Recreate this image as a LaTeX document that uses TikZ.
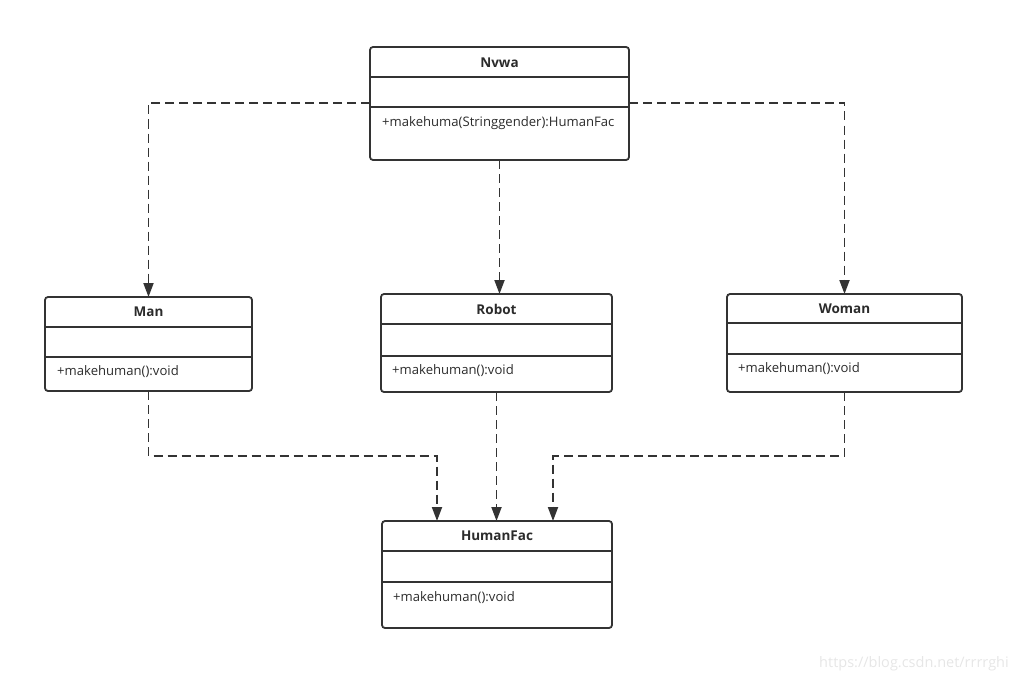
\documentclass[tikz,border=0pt]{standalone}
\usepackage{fontspec}
\setmainfont{Open Sans}
\usetikzlibrary{arrows.meta,calc}
\definecolor{lc}{HTML}{333333}
\definecolor{tc}{HTML}{2B2B2B}
\definecolor{wm}{HTML}{E6E6E6}
\tikzset{
  umlbox/.style={draw=lc, line width=1.8pt, rounded corners=3pt, anchor=north west, inner sep=0pt, outer sep=0pt},
  divline/.style={draw=lc, line width=1.8pt},
  ttl/.style={font=\bfseries\fontsize{13.5}{15}\selectfont, text=tc, inner sep=0pt},
  meth/.style={anchor=west, font=\fontsize{13.1}{15}\selectfont, text=tc, inner sep=0pt},
  dep/.style={draw=lc, line width=1.9pt, dash pattern=on 9pt off 5pt, -{Triangle[length=14pt,width=10pt]}}
}
\begin{document}
\begin{tikzpicture}[x=1pt,y=-1pt]
\useasboundingbox (0,0) rectangle (1016,682);
% Nvwa
\node[umlbox, minimum width=259pt, minimum height=113pt] (nvwa) at (370,47) {};
\coordinate (nvd1a) at (370,77); \coordinate (nvd1b) at (629,77);
\coordinate (nvd2a) at (370,107); \coordinate (nvd2b) at (629,107);
\draw[divline] (nvd1a) -- (nvd1b);
\draw[divline] (nvd2a) -- (nvd2b);
\node[ttl] (nvwat) at (499.5,63) {Nvwa};
\node[meth] (nvwam) at (382,123) {+makehuma(Stringgender):HumanFac};
% Man
\node[umlbox, minimum width=207pt, minimum height=94pt] (man) at (45,297) {};
\coordinate (mnd1a) at (45,327); \coordinate (mnd1b) at (252,327);
\coordinate (mnd2a) at (45,357); \coordinate (mnd2b) at (252,357);
\draw[divline] (mnd1a) -- (mnd1b);
\draw[divline] (mnd2a) -- (mnd2b);
\node[ttl] (mant) at (148.5,312) {Man};
\node[meth] (manm) at (57,372) {+makehuman():void};
% Robot
\node[umlbox, minimum width=231pt, minimum height=98pt] (robot) at (381,294) {};
\coordinate (rbd1a) at (381,324); \coordinate (rbd1b) at (612,324);
\coordinate (rbd2a) at (381,356); \coordinate (rbd2b) at (612,356);
\draw[divline] (rbd1a) -- (rbd1b);
\draw[divline] (rbd2a) -- (rbd2b);
\node[ttl] (robott) at (496.5,309) {Robot};
\node[meth] (robotm) at (392,371) {+makehuman():void};
% Woman
\node[umlbox, minimum width=235pt, minimum height=98pt] (woman) at (727,294) {};
\coordinate (wmd1a) at (727,323); \coordinate (wmd1b) at (962,323);
\coordinate (wmd2a) at (727,354); \coordinate (wmd2b) at (962,354);
\draw[divline] (wmd1a) -- (wmd1b);
\draw[divline] (wmd2a) -- (wmd2b);
\node[ttl] (womant) at (844.5,309) {Woman};
\node[meth] (womanm) at (738,369) {+makehuman():void};
% HumanFac
\node[umlbox, minimum width=230pt, minimum height=107pt] (hf) at (382,521) {};
\coordinate (hfd1a) at (382,551); \coordinate (hfd1b) at (612,551);
\coordinate (hfd2a) at (382,582); \coordinate (hfd2b) at (612,582);
\draw[divline] (hfd1a) -- (hfd1b);
\draw[divline] (hfd2a) -- (hfd2b);
\node[ttl] (hft) at (497,536) {HumanFac};
\node[meth] (hfm) at (393,598) {+makehuman():void};
% connectors
\coordinate (nvL) at (370,103);
\coordinate (nvR) at (629,103);
\coordinate (inL) at (437,521);
\coordinate (inR) at (553,521);
\coordinate (jL) at (437,456);
\coordinate (jR) at (553,456);
\draw[dep] (nvL) -| (man.north);
\draw[dep] (nvwa.south) -- (nvwa.south |- robot.north);
\draw[dep] (nvR) -| (woman.north);
\draw[dep] (man.south) |- (jL) -- (inL);
\draw[dep] (robot.south) -- (robot.south |- hf.north);
\draw[dep] (woman.south) |- (jR) -- (inR);
% watermark
\node[font=\fontsize{14.5}{16}\selectfont, text=wm, inner sep=0pt] (wmk) at (914,664) {https://blog.csdn.net/rrrrghi};
\end{tikzpicture}
\end{document}
